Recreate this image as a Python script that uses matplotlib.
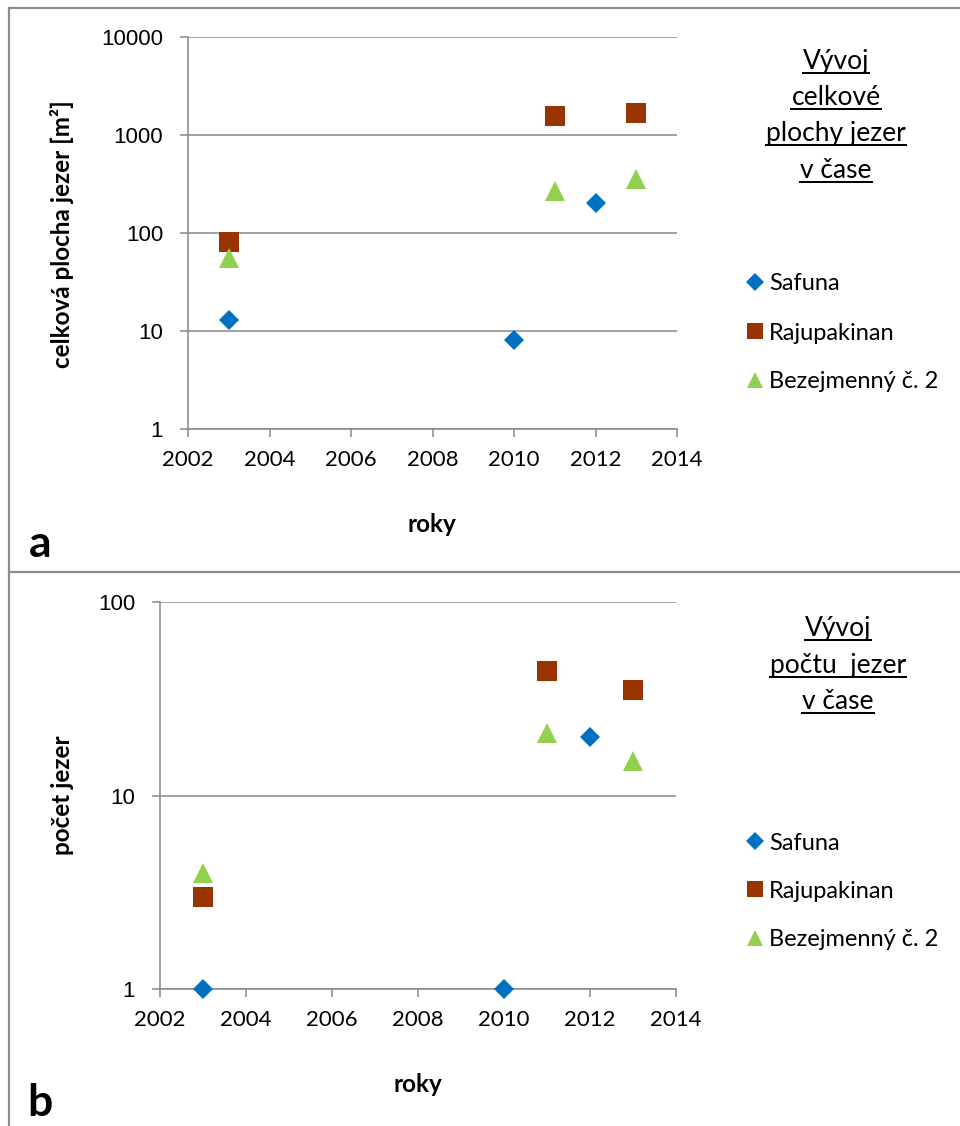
import matplotlib
matplotlib.use("Agg")
import matplotlib.pyplot as plt
from matplotlib.lines import Line2D
from matplotlib.ticker import FixedLocator, FixedFormatter, NullLocator

W, H = 960, 1126
DPI = 100

# ---- data ---------------------------------------------------------------
series_names = ["Safuna", "Rajupakinan", "Bezejmenný č. 2"]
series_colors = ["#0070C0", "#993300", "#92D050"]
series_markers = ["D", "s", "^"]

# total lake area [m²]
area_years = [[2003, 2010, 2012], [2003, 2011, 2013], [2003, 2011, 2013]]
area_values = [[13, 8, 200], [80, 1550, 1680], [55, 270, 355]]

# number of lakes
count_years = [[2003, 2010, 2012], [2003, 2011, 2013], [2003, 2011, 2013]]
count_values = [[1, 1, 20], [3, 44, 35], [4, 21, 15]]

x_ticks = [2002, 2004, 2006, 2008, 2010, 2012, 2014]
x_tick_labels = ["2002", "2004", "2006", "2008", "2010", "2012", "2014"]
area_y_ticks = [1, 10, 100, 1000, 10000]
area_y_labels = ["1", "10", "100", "1000", "10000"]
count_y_ticks = [1, 10, 100]
count_y_labels = ["1", "10", "100"]

# ---- styling -----------------------------------------------------------
CAL = ["Lato", "DejaVu Sans"]
ARI = ["Liberation Sans", "DejaVu Sans"]
GRID = "#868686"
BORDER = "#8c8c8c"
PT = 72.0 / DPI  # points per pixel

marker_pt = {"D": 10.5, "s": 14.5, "^": 14.5}
legend_marker_pt = {"D": 8.8, "s": 12.0, "^": 12.0}

fig = plt.figure(figsize=(W / DPI, H / DPI), dpi=DPI)
fig.patch.set_facecolor("white")


def fx(x):
    return x / W


def fy(y):
    return 1 - y / H


def make_axes(left, right, top, bottom):
    return fig.add_axes([fx(left), fy(bottom), (right - left) / W, (bottom - top) / H])


def style_axes(ax, yticks, ylabels, ymax):
    ax.set_yscale("log")
    ax.set_xlim(2002, 2014)
    ax.set_ylim(1, ymax)
    ax.xaxis.set_major_locator(FixedLocator(x_ticks))
    ax.xaxis.set_major_formatter(FixedFormatter(x_tick_labels))
    ax.yaxis.set_major_locator(FixedLocator(yticks))
    ax.yaxis.set_major_formatter(FixedFormatter(ylabels))
    ax.yaxis.set_minor_locator(NullLocator())
    ax.xaxis.set_minor_locator(NullLocator())
    for s in ("top", "right"):
        ax.spines[s].set_visible(False)
    for s in ("left", "bottom"):
        ax.spines[s].set_color(GRID)
        ax.spines[s].set_linewidth(1.5 * PT)
    ax.grid(axis="y", color=GRID, linewidth=1.5 * PT)
    ax.set_axisbelow(True)
    ax.tick_params(axis="both", direction="out", length=8 * PT, width=1.5 * PT, color=GRID)
    ax.tick_params(axis="y", pad=17 * PT)
    ax.tick_params(axis="x", pad=13 * PT)
    for lab in ax.get_yticklabels():
        lab.set_family(ARI)
        lab.set_fontsize(16)
    for lab in ax.get_xticklabels():
        lab.set_family(CAL)
        lab.set_fontsize(16)


def draw_series(ax, years, values):
    for name, color, m, xs, ys in zip(series_names, series_colors, series_markers, years, values):
        ax.plot(xs, ys, linestyle="none", marker=m, markersize=marker_pt[m],
                color=color, markeredgewidth=0, clip_on=False, zorder=3, label=name)


def draw_legend(x_marker, x_text, ys):
    for name, color, m, y in zip(series_names, series_colors, series_markers, ys):
        fig.add_artist(Line2D([fx(x_marker)], [fy(y)], transform=fig.transFigure,
                              linestyle="none", marker=m, markersize=legend_marker_pt[m],
                              color=color, markeredgewidth=0))
        fig.text(fx(x_text), fy(y), name, family=CAL, fontsize=17,
                 ha="left", va="center_baseline")


def draw_title(lines, x_center, baselines):
    renderer = fig.canvas.get_renderer()
    for line, yb in zip(lines, baselines):
        t = fig.text(fx(x_center), fy(yb), line, family=CAL, fontsize=19,
                     ha="center", va="baseline")
        bb = t.get_window_extent(renderer=renderer)
        fig.add_artist(Line2D([bb.x0 / W, bb.x1 / W], [fy(yb + 4), fy(yb + 4)],
                              transform=fig.transFigure, color="black",
                              linewidth=2 * PT))


# ---- panel a: total area ------------------------------------------------
ax_a = make_axes(188, 677, 37, 429)
style_axes(ax_a, area_y_ticks, area_y_labels, 10000)
draw_series(ax_a, area_years, area_values)
fig.text(fx(62), fy(234), "celková plocha jezer [m²]", family=CAL, fontsize=17.5,
         fontweight="bold", rotation=90, ha="center", va="center")
fig.text(fx(432), fy(524), "roky", family=CAL, fontsize=17.5, fontweight="bold",
         ha="center", va="center")
fig.text(fx(40), fy(544), "a", family=CAL, fontsize=32, fontweight="bold",
         ha="center", va="center")
draw_title(["Vývoj", "celkové", "plochy jezer", "v čase"], 836, [69, 105, 141, 178])
draw_legend(755, 769, [282, 331, 380])

# ---- panel b: number of lakes -------------------------------------------
ax_b = make_axes(160, 676, 602, 989)
style_axes(ax_b, count_y_ticks, count_y_labels, 100)
draw_series(ax_b, count_years, count_values)
fig.text(fx(62), fy(795), "počet jezer", family=CAL, fontsize=17.5,
         fontweight="bold", rotation=90, ha="center", va="center")
fig.text(fx(418), fy(1084), "roky", family=CAL, fontsize=17.5, fontweight="bold",
         ha="center", va="center")
fig.text(fx(40), fy(1103), "b", family=CAL, fontsize=32, fontweight="bold",
         ha="center", va="center")
draw_title(["Vývoj", "počtu  jezer", "v čase"], 838, [636, 673, 709])
draw_legend(755, 769, [841, 889, 938])

# ---- panel frames ---------------------------------------------------------
for xs, ys in [([9, W], [8, 8]), ([9, 9], [8, H]), ([9, W], [572, 572])]:
    fig.add_artist(Line2D([fx(v) for v in xs], [fy(v) for v in ys],
                          transform=fig.transFigure, color=BORDER, linewidth=2.2 * PT))

fig.savefig("out.png", dpi=DPI, facecolor="white")
